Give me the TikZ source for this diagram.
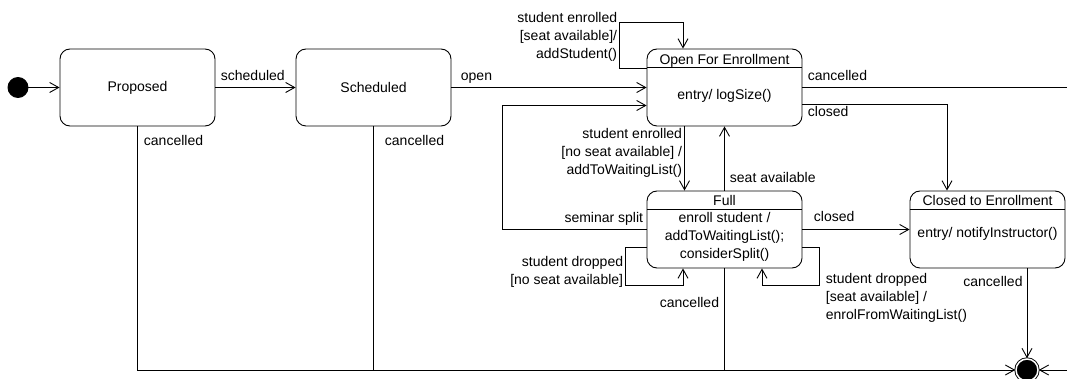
\documentclass[tikz,border=0pt]{standalone}
\usepackage{fontspec}
\setmainfont{Liberation Sans}
\usepackage{tikz}
\usetikzlibrary{automata,positioning,arrows.meta}

\begin{document}
\begin{tikzpicture}[>={Straight Barb[length=9pt,width=10pt]},on grid,line width=0.9pt,
  font=\fontsize{14}{18}\selectfont,
  box/.style={state,rectangle,rounded corners=10pt,minimum width=155pt,minimum height=77pt},
  lbl/.style={inner sep=1pt}]
\useasboundingbox (0,0) rectangle (1067pt,-379pt);
\node[box](q_prop) at (137.5pt,-87.5pt){Proposed};
\node[box](q_sched)[right=236pt of q_prop]{Scheduled};
\node[box](q_open)[right=351pt of q_sched]{};
\node[box](q_full)[below=142pt of q_open]{};
\node[box](q_closed)[right=263pt of q_full]{};
\node[state,circle,fill=black,minimum size=20pt](q_init)[left=119.5pt of q_prop]{};
\node[state,accepting,fill=black,minimum size=22pt,double distance=1.5pt](q_final)[below=140.5pt of q_closed,xshift=39.5pt]{};
\node[coordinate](q_0)[right=342.5pt of q_open]{};
\node[coordinate](q_1)[right=40pt of q_final]{};
% name and action compartments
\node[lbl](q_open_name)[below=12.5pt of q_open.north,anchor=center]{Open For Enrollment};
\node[lbl](q_open_do)[below=47pt of q_open.north,anchor=center]{entry/ logSize()};
\node[lbl](q_full_name)[below=10pt of q_full.north,anchor=center]{Full};
\node[lbl,align=center](q_full_do)[below=46pt of q_full.north,anchor=center]{enroll student /\\addToWaitingList();\\considerSplit()};
\node[lbl](q_closed_name)[below=10pt of q_closed.north,anchor=center]{Closed to Enrollment};
\node[lbl](q_closed_do)[below=43pt of q_closed.north,anchor=center]{entry/ notifyInstructor()};
\foreach \s in {q_open,q_full,q_closed}
  \draw ([yshift=-19pt]\s.north west) -- ([yshift=-19pt]\s.north east);

\draw[->] (q_init) -- (q_prop);
\draw[->] (q_prop) -- (q_sched) node[lbl,pos=0,anchor=base west,xshift=4pt,yshift=6.5pt](l_sched){scheduled};
\draw[->] (q_sched) -- (q_open) node[lbl,pos=0,anchor=base west,xshift=8pt,yshift=7pt](l_open){open};
\draw (q_open) -- (q_0) node[lbl,pos=0,anchor=base west,xshift=4pt,yshift=7pt](l_cancel0){cancelled};
\draw[->] ([yshift=-17pt]q_open.east) node[lbl,anchor=base west,xshift=4pt,yshift=-12pt](l_closed0){closed} -| ([xshift=-40.5pt]q_closed.north);
\draw[->] ([yshift=-20pt]q_open.north west) -- ++(-27pt,0) node[lbl,anchor=south east,align=right,xshift=-1pt,yshift=6pt](l_enrol){student enrolled\\{[}seat available{]}/\\addStudent()} |- ([xshift=-41.5pt,yshift=26pt]q_open.north) -- ([xshift=-41.5pt]q_open.north);
\draw[->] ([xshift=-40pt]q_open.south) node[lbl,anchor=north east,align=right,xshift=-1pt](l_noseat){student enrolled\\{[}no seat available{]} /\\addToWaitingList()} -- ([xshift=-40pt]q_full.north);
\draw[->] (q_full) -- (q_open) node[lbl,pos=0,anchor=base west,xshift=4pt,yshift=8pt](l_seat){seat available};
\draw[->] (q_full) -- (q_closed) node[lbl,pos=0,anchor=base west,xshift=10pt,yshift=7.5pt](l_closed1){closed};
\draw[->] (q_full.west) node[lbl,anchor=base east,xshift=-2pt,yshift=7pt](l_split){seminar split} -- ++(-144pt,0) |- ([yshift=-18pt]q_open.west);
% self loops below Full
\draw[->] ([yshift=-18pt]q_full.west) -- ++(-21pt,0) node[lbl,anchor=north east,align=right,xshift=-1pt,yshift=-7pt](l_drop0){student dropped\\{[}no seat available{]}} |- ([xshift=-41.5pt,yshift=-17pt]q_full.south) -- ([xshift=-41.5pt]q_full.south);
\draw[->] ([yshift=-18pt]q_full.east) -- ++(17pt,0) node[lbl,anchor=north west,align=left,xshift=5pt,yshift=-24pt](l_drop1){student dropped\\{[}seat available{]} /\\enrolFromWaitingList()} |- ([xshift=37.5pt,yshift=-17pt]q_full.south) -- ([xshift=37.5pt]q_full.south);
% cancelled, towards the final state
\draw[->] (q_prop.south) node[lbl,anchor=base west,xshift=5pt,yshift=-19pt](l_cancel1){cancelled} |- (q_final);
\draw (q_sched.south) node[lbl,anchor=base west,xshift=10pt,yshift=-19pt](l_cancel2){cancelled} -- (q_sched.south |- q_final);
\draw (q_full.south) node[lbl,anchor=base east,xshift=-4pt,yshift=-39pt](l_cancel3){cancelled} -- (q_full.south |- q_final);
\draw[->] (q_final |- q_closed.south) node[lbl,anchor=base east,xshift=-3pt,yshift=-18pt](l_cancel4){cancelled} -- (q_final);
\draw[->] (q_1) -- (q_final);
\end{tikzpicture}
\end{document}
